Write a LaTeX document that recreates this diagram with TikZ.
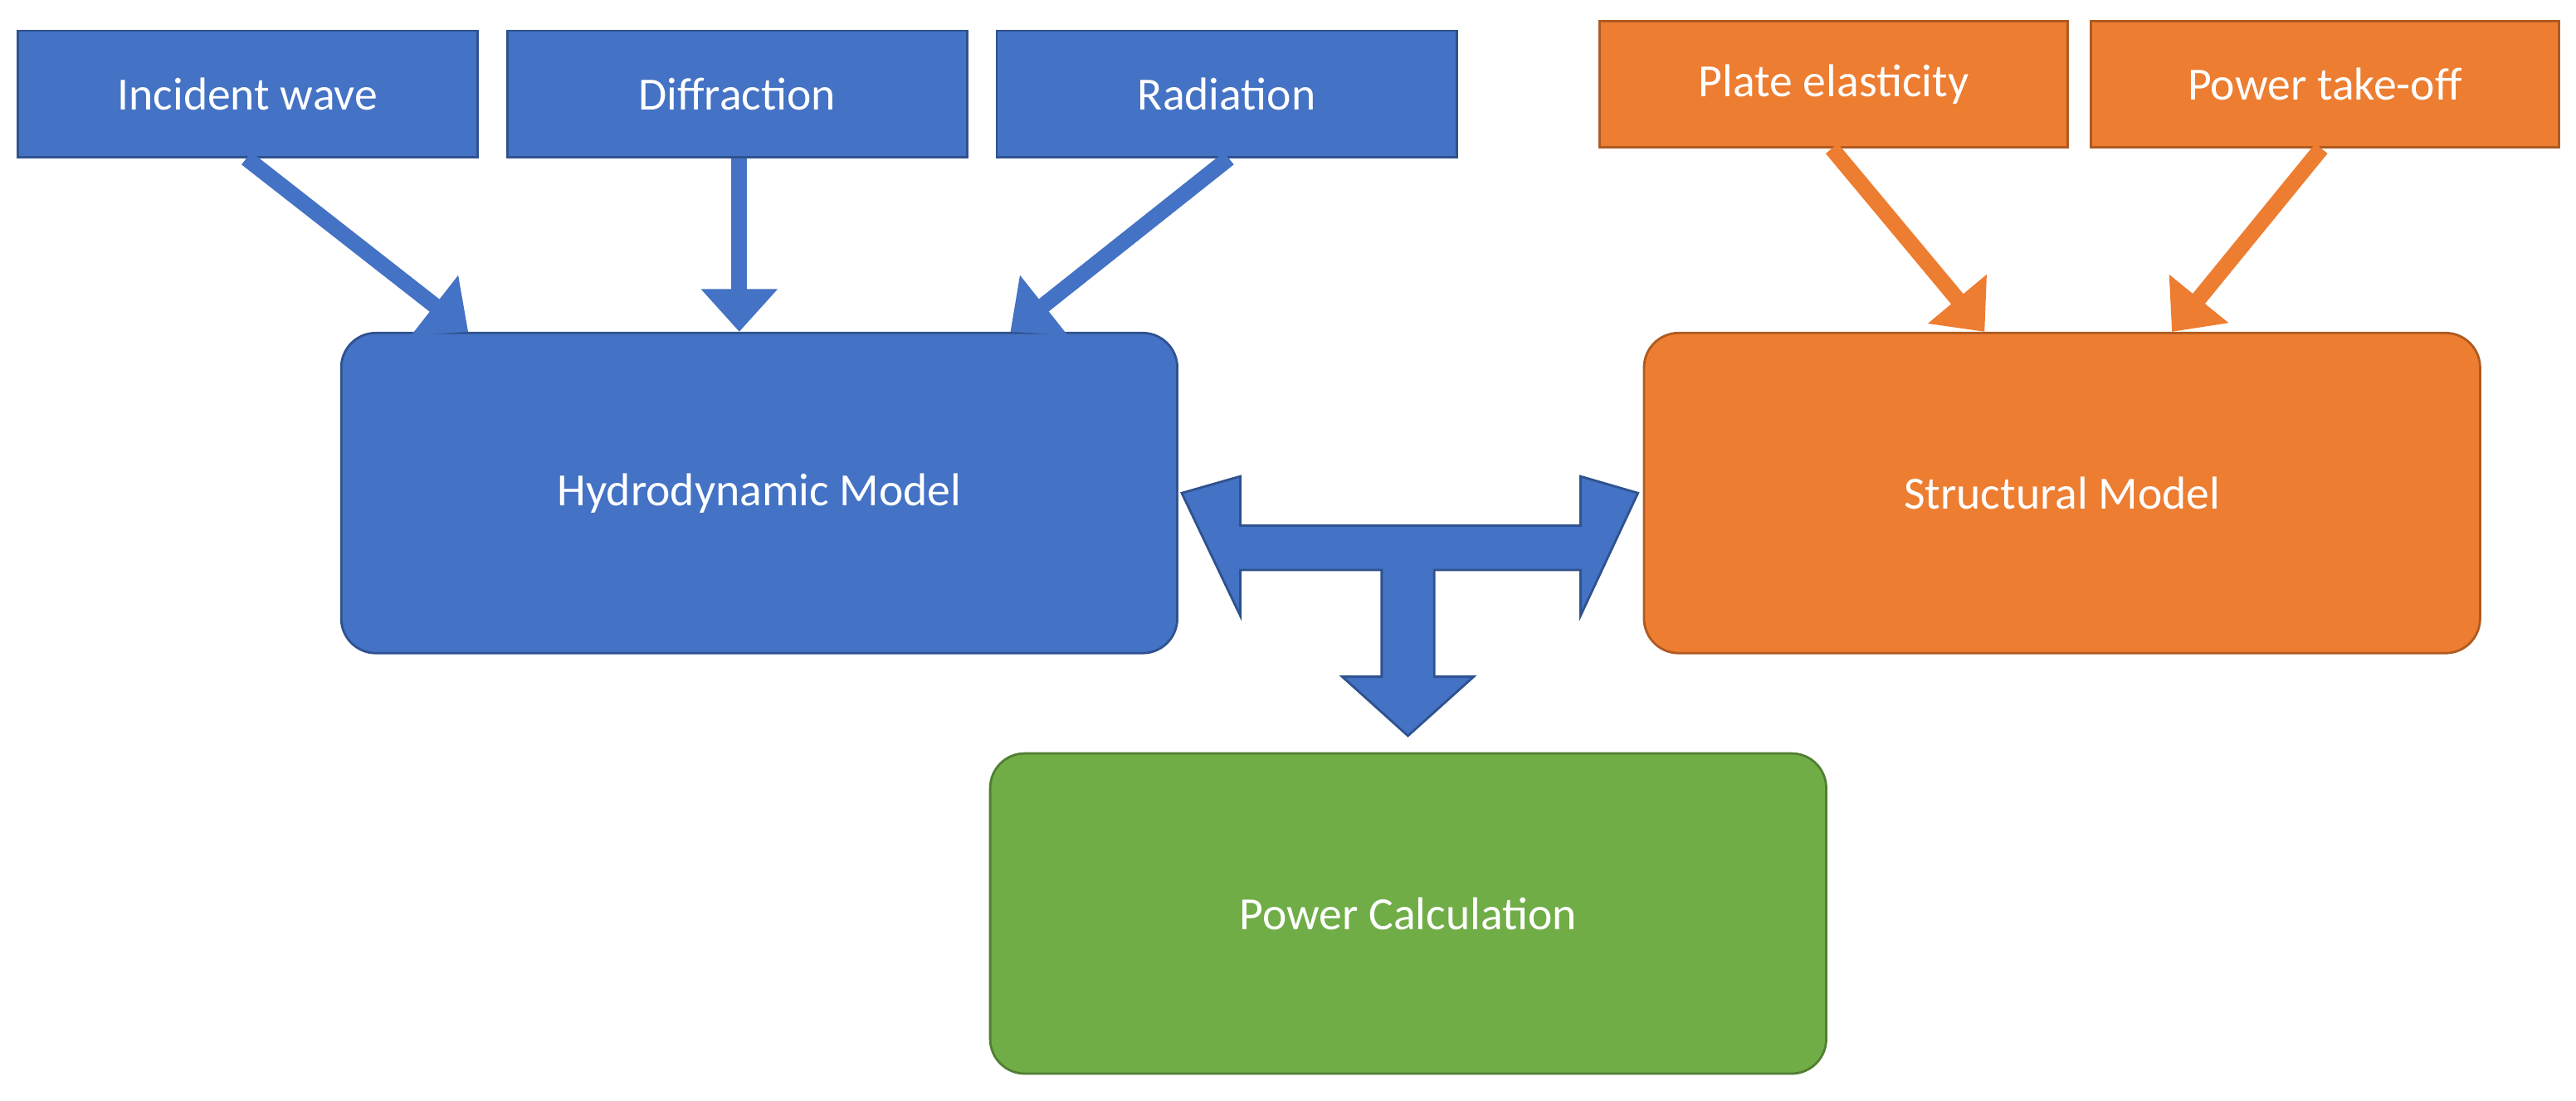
\documentclass[tikz,border=0pt]{standalone}
\usepackage{fontspec}
\setmainfont{Carlito}
\usepackage{tikz}
\usetikzlibrary{arrows.meta, positioning, calc}

\definecolor{hydroblue}{HTML}{4472C4}
\definecolor{hydroline}{HTML}{2F528F}
\definecolor{structorange}{HTML}{ED7D31}
\definecolor{structline}{HTML}{AE5A21}
\definecolor{powergreen}{HTML}{70AD47}
\definecolor{powerline}{HTML}{507E32}

\begin{document}
\begin{tikzpicture}[
  x=0.02cm, y=-0.02cm,
  font=\fontsize{16}{19}\selectfont,
  input/.style={
    draw, line width=0.8pt, text=white,
    minimum width=5.6cm, minimum height=1.54cm,
    inner sep=0pt, anchor=north west
  },
  model/.style={
    draw, line width=0.8pt, text=white, rounded corners=12pt,
    minimum width=10.18cm, minimum height=3.9cm,
    inner sep=0pt, anchor=north west
  },
  feed/.style={-{Triangle[length=5.2mm, width=9mm]}, line width=5.5pt}
]
\useasboundingbox (0,0) rectangle (1568,670);

% ================= Hydrodynamic inputs =================
\node[input, fill=hydroblue, draw=hydroline] (incident) at (10,18) {Incident wave};
\node[input, fill=hydroblue, draw=hydroline] (diffraction) at (308,18) {Diffraction};
\node[input, fill=hydroblue, draw=hydroline] (radiation) at (606,18) {Radiation};

% ================= Structural inputs =================
\node[input, fill=structorange, draw=structline, minimum width=5.7cm] (plate) at (973,12) {Plate elasticity};
\node[input, fill=structorange, draw=structline, minimum width=5.7cm] (pto) at (1272,12) {Power take-off};

% ================= Models =================
\node[model, fill=hydroblue, draw=hydroline] (hydro) at (207,202) {Hydrodynamic Model};
\node[model, fill=structorange, draw=structline] (struct) at (1000,202) {Structural Model};
\node[model, fill=powergreen, draw=powerline] (power) at (602,458) {Power Calculation};

% input arrows
\draw[feed, hydroblue] (incident.south -| 150,0) -- (hydro.north -| 285,0);
\draw[feed, hydroblue] (diffraction.south -| 450,0) -- (hydro.north -| 450,0);
\draw[feed, hydroblue] (radiation.south -| 748,0) -- (hydro.north -| 615,0);
\draw[feed, structorange] (plate.south -| 1115,0) -- (struct.north -| 1208,0);
\draw[feed, structorange] (pto.south -| 1413,0) -- (struct.north -| 1322,0);

% coupling arrow
\coordinate (ltip) at (hydro.east);
\coordinate (rtip) at (struct.west);
\coordinate (dtip) at (power.north -| 857,0);
\filldraw[fill=hydroblue, draw=hydroline, line width=0.8pt]
  ($(ltip)+(2,0)$) -- (755,290) -- (755,320) -- (962,320) -- (962,290)
  -- ($(rtip)+(-3,0)$) -- (962,375) -- (962,347) -- (873,347) -- (873,412)
  -- (897,412) -- ($(dtip)+(0,-10)$) -- (817,412) -- (841,412) -- (841,347)
  -- (755,347) -- (755,375) -- cycle;
\end{tikzpicture}
\end{document}
